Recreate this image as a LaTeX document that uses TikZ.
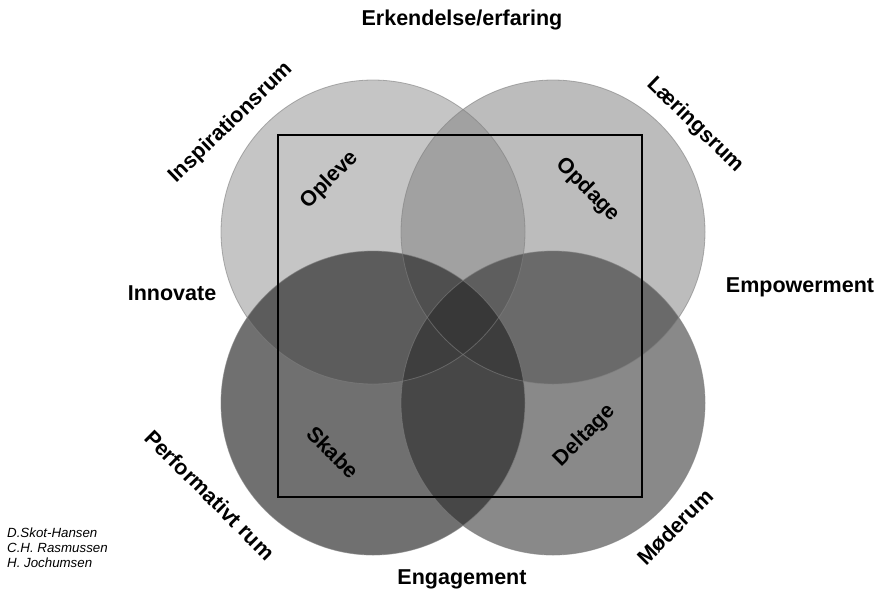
\documentclass[tikz,border=0pt]{standalone}
\usepackage{fontspec}
\setmainfont{Liberation Sans}
\begin{document}
\begin{tikzpicture}[x=1pt,y=-1pt,
  circ/.style={draw=black!50,line width=0.8pt,draw opacity=0.6},
  lab/.style={font=\fontsize{21.5}{24}\selectfont\bfseries,inner sep=0pt},
  auth/.style={font=\fontsize{13.3}{14.6}\selectfont\itshape,inner sep=0pt,anchor=west}]
\useasboundingbox[fill=white] (0,0) rectangle (880,590);
% circles
\fill[black!50,fill opacity=0.45] (373,232) circle (152);
\fill[black!50,fill opacity=0.52] (553,232) circle (152);
\fill[black!85,fill opacity=0.66] (373,403) circle (152);
\fill[black!85,fill opacity=0.54] (553,403) circle (152);
\node[circ,circle,minimum size=304pt,inner sep=0pt] (tl) at (373,232) {};
\node[circ,circle,minimum size=304pt,inner sep=0pt] (tr) at (553,232) {};
\node[circ,circle,minimum size=304pt,inner sep=0pt] (bl) at (373,403) {};
\node[circ,circle,minimum size=304pt,inner sep=0pt] (br) at (553,403) {};
% square
\node[draw=black,line width=1.6pt,minimum width=364pt,minimum height=362pt,inner sep=0pt] (sq) at (460,316) {};
% outer labels
\node[lab] (erk) at (462,20) {Erkendelse/erfaring};
\node[lab] (inn) at (172,293) {Innovate};
\node[lab] (emp) at (800,287) {Empowerment};
\node[lab] (eng) at (462,579) {Engagement};
\node[lab,rotate=44] (insp) at (231,123) {Inspirationsrum};
\node[lab,rotate=-44] (laer) at (695,125) {Læringsrum};
\node[lab,rotate=-45] (perf) at (210,495) {Performativt rum};
\node[lab,rotate=45] (mod) at (675,527) {Møderum};
% inner labels
\node[lab,rotate=45] (opl) at (330,180) {Opleve};
\node[lab,rotate=-45] (opd) at (588,190) {Opdage};
\node[lab,rotate=-45] (ska) at (333,452) {Skabe};
\node[lab,rotate=45] (del) at (585,436) {Deltage};
% authors
\node[auth] (a1) at (7,533) {D.Skot-Hansen};
\node[auth] (a2) at (7,548) {C.H. Rasmussen};
\node[auth] (a3) at (7,563) {H. Jochumsen};
\end{tikzpicture}
\end{document}
